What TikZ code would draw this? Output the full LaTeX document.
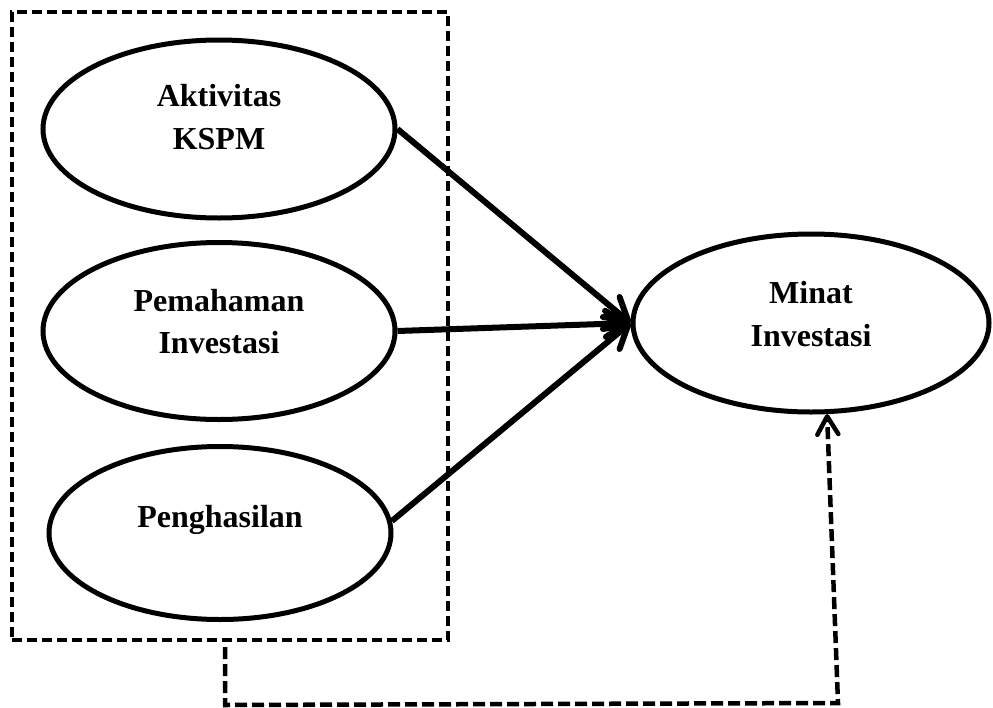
\documentclass[tikz,border=0pt]{standalone}
\usepackage{fontspec}
\setmainfont{Liberation Serif}
\usetikzlibrary{shapes.geometric,arrows.meta}
\begin{document}
\begin{tikzpicture}[x=1pt,y=-1pt,
  var/.style={draw, ellipse, line width=5pt, inner sep=0pt},
  lbl/.style={align=center, font=\fontsize{32}{42.5}\selectfont\bfseries, inner sep=0pt},
  grp/.style={draw, dash pattern=on 10pt off 5pt, line width=4.5pt, inner sep=0pt},
  arr/.style={line width=6pt, -{Straight Barb[length=22pt,width=26pt,round]}},
  ctrl/.style={line width=4.5pt, dash pattern=on 12pt off 5pt, -{Straight Barb[length=18pt,width=21pt,round]}}
]
\useasboundingbox (0,0) rectangle (993,707);
\node[grp, minimum width=436pt, minimum height=628pt] (box) at (230,326) {};
\node[var, minimum width=352pt, minimum height=178pt] (e1) at (219,129) {};
\node[var, minimum width=352pt, minimum height=177pt] (e2) at (219,331) {};
\node[var, minimum width=342pt, minimum height=173pt] (e3) at (220,533) {};
\node[var, minimum width=356pt, minimum height=178pt] (e4) at (811,323) {};
\node[lbl] (t1) at (219,117) {Aktivitas\\KSPM};
\node[lbl] (t2) at (219,321.5) {Pemahaman\\Investasi};
\node[lbl] (t3) at (220,520) {Penghasilan};
\node[lbl] (t4) at (811,314) {Minat\\Investasi};
\draw[arr] (e1.east) -- (e4.west);
\draw[arr] (e2.east) -- (e4.west);
\draw[arr] (e3.4) -- (e4.west);
\coordinate (d0) at (225,647);
\coordinate (d1) at (225,705);
\coordinate (d2) at (838,703);
\draw[ctrl] (d0) -- (d1) -- (d2) -- (e4.-80);
\end{tikzpicture}
\end{document}
